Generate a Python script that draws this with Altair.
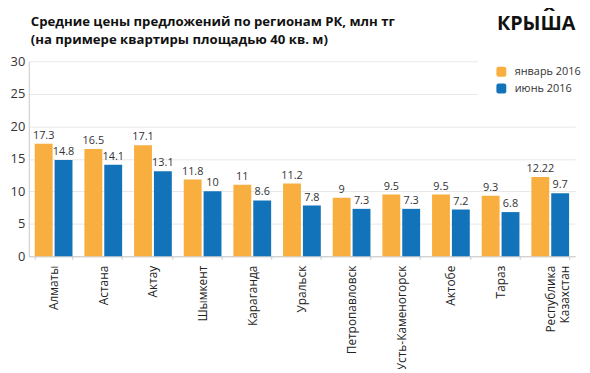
import altair as alt
import pandas as pd

regions = ["Алматы", "Астана", "Актау", "Шымкент", "Караганда", "Уральск",
           "Петропавловск", "Усть-Каменогорск", "Актобе", "Тараз",
           "Республика\nКазахстан"]
jan = [17.3, 16.5, 17.1, 11.8, 11, 11.2, 9, 9.5, 9.5, 9.3, 12.22]
jun = [14.8, 14.1, 13.1, 10, 8.6, 7.8, 7.3, 7.3, 7.2, 6.8, 9.7]
jan_lbl = ["17.3", "16.5", "17.1", "11.8", "11", "11.2", "9", "9.5", "9.5", "9.3", "12.22"]
jun_lbl = ["14.8", "14.1", "13.1", "10", "8.6", "7.8", "7.3", "7.3", "7.2", "6.8", "9.7"]
series = ["январь 2016", "июнь 2016"]
colors = ["#F9AE40", "#1273BA"]
title_lines = ["Средние цены предложений по регионам РК, млн тг",
               "(на примере квартиры площадью 40 кв. м)"]

rows = []
for i, r in enumerate(regions):
    rows.append({"region": r, "series": series[0], "value": jan[i], "label": jan_lbl[i]})
    rows.append({"region": r, "series": series[1], "value": jun[i], "label": jun_lbl[i]})
df = pd.DataFrame(rows)

FONT = "Open Sans"
ROUNDED = ("M -0.55,-1 L 0.55,-1 Q 1,-1 1,-0.55 L 1,0.55 Q 1,1 0.55,1 "
           "L -0.55,1 Q -1,1 -1,0.55 L -1,-0.55 Q -1,-1 -0.55,-1 Z")

x = alt.X("region:N", sort=regions, title=None,
          scale=alt.Scale(paddingInner=0.24, paddingOuter=0.12),
          axis=alt.Axis(labelAngle=-90, labelFontSize=12, labelColor="#222",
                        labelFont=FONT, labelPadding=6, labelLimit=300,
                        labelExpr="split(datum.label, '\\n')",
                        tickBand="extent", tickColor="#c8c8c8", tickSize=3,
                        domainColor="#c8c8c8", grid=False))
xo = alt.XOffset("series:N", sort=series,
                 scale=alt.Scale(paddingInner=0.1, paddingOuter=0))
y = alt.Y("value:Q", title=None,
          scale=alt.Scale(domain=[0, 30]),
          axis=alt.Axis(values=[0, 5, 10, 15, 20, 25, 30], ticks=False,
                        labelFontSize=13, labelColor="#333", labelFont=FONT,
                        labelPadding=4, domainColor="#c8c8c8",
                        gridColor="#e8e8e8"))

bars = alt.Chart(df).mark_bar().encode(
    x=x, xOffset=xo, y=y,
    color=alt.Color("series:N", sort=series,
                    scale=alt.Scale(domain=series, range=colors),
                    legend=alt.Legend(title=None, orient="none", legendX=454,
                                      legendY=-13, fillColor="white",
                                      padding=18, symbolType=ROUNDED,
                                      symbolSize=100, symbolStrokeWidth=0,
                                      labelFontSize=11, labelFont=FONT,
                                      labelColor="#333", labelOffset=8,
                                      rowPadding=5)),
)

texts = alt.Chart(df).mark_text(baseline="bottom", dy=-3, fontSize=11,
                                font=FONT, color="#333").encode(
    x=x, xOffset=xo, y=y, text="label:N",
)

title1 = alt.Chart(pd.DataFrame({"t": [title_lines[0]]})).mark_text(
    align="left", baseline="alphabetic", fontSize=13.3, fontWeight="bold",
    font=FONT, color="#111").encode(x=alt.value(2), y=alt.value(-36), text="t:N")
title2 = alt.Chart(pd.DataFrame({"t": [title_lines[1]]})).mark_text(
    align="left", baseline="alphabetic", fontSize=13.3, fontWeight="bold",
    font=FONT, color="#111").encode(x=alt.value(2), y=alt.value(-18), text="t:N")

logo = alt.Chart(pd.DataFrame({"t": ["КРЫША"]})).mark_text(
    align="left", baseline="alphabetic", fontSize=20, fontWeight="bold",
    font=FONT, color="#111").encode(
    x=alt.value(473), y=alt.value(-32), text="t:N")

hat = alt.Chart(pd.DataFrame({"t": ["ˆ"]})).mark_text(
    align="center", baseline="alphabetic", fontSize=26, fontWeight="bold",
    font=FONT, color="#111").encode(
    x=alt.value(526), y=alt.value(-36), text="t:N")

chart = alt.layer(bars, texts, title1, title2, logo, hat).properties(
    width=552, height=197,
    autosize=alt.AutoSizeParams(type="none"),
    padding={"left": 21, "top": 52, "right": 7, "bottom": 112},
).configure_view(stroke=None)

chart.save("out.html", embed_options={"renderer": "svg", "actions": False})
